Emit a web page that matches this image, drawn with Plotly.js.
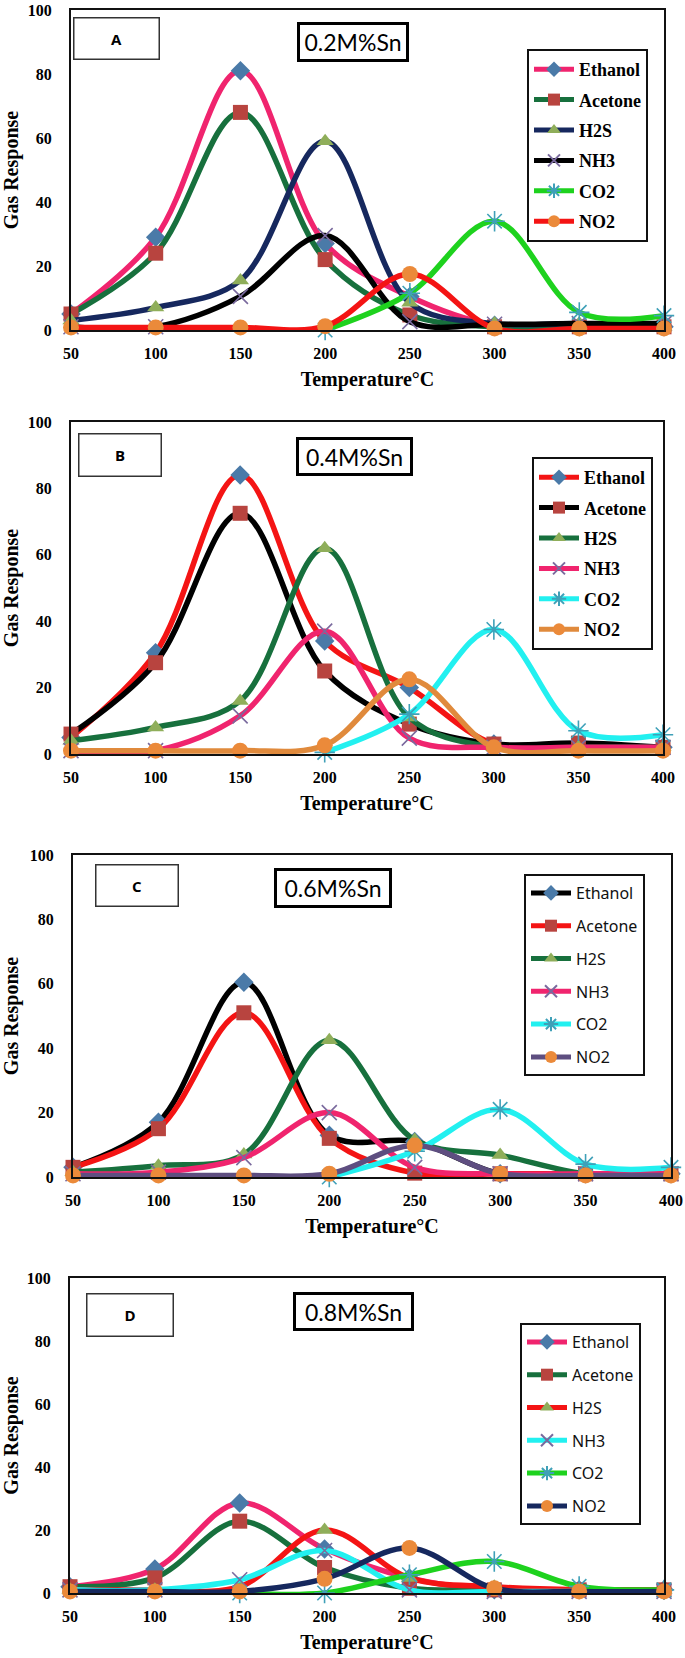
<!DOCTYPE html>
<html>
<head>
<meta charset="utf-8">
<script src="https://cdn.plot.ly/plotly-3.0.1.min.js"></script>
<style>html,body{margin:0;padding:0;background:#fff;}#chart{width:685px;height:1658px;}</style>
</head>
<body>
<div id="chart"></div>
<script>
// ---- data ----
const temps = [50, 100, 150, 200, 250, 300, 350, 400];
const gasNames = ["Ethanol", "Acetone", "H2S", "NH3", "CO2", "NO2"];
const panelLabels = ["A", "B", "C", "D"];
const panelTitles = ["0.2M%Sn", "0.4M%Sn", "0.6M%Sn", "0.8M%Sn"];
const xTickLabels = ["50", "100", "150", "200", "250", "300", "350", "400"];
const yTickLabels = ["0", "20", "40", "60", "80", "100"];

// Panel A (0.2 M% Sn)
const ethanolA = [5, 29, 81, 27, 10.5, 1.5, 1, 1];
const acetoneA = [5, 24, 68, 22, 4.7, 1, 1, 1];
const h2sA     = [3, 7, 15.5, 59, 8.5, 2, 2, 1];
const nh3A     = [1, 1, 10.5, 29.5, 2.6, 1.8, 2, 2];
const co2A     = [null, null, null, 0, 11.5, 34, 5.5, 4.5];
const no2A     = [0.8, 0.8, 0.8, 1.2, 17.5, 0.5, 0.5, 0.5];

// Panel B (0.4 M% Sn)
const ethanolB = [5, 30.5, 84, 34, 20, 3, 2, 2];
const acetoneB = [6, 27.5, 72.5, 25, 9, 3, 3.3, 2];
const h2sB     = [4, 8, 16, 62, 11, 2, 2, 2];
const nh3B     = [1, 1, 11.5, 37, 4.8, 2, 2, 2];
const co2B     = [null, null, null, 0.5, 12, 37.5, 7, 5.8];
const no2B     = [1, 1, 1, 2.6, 22.5, 2, 1, 1];

// Panel C (0.6 M% Sn)
const ethanolC = [3, 17, 60.5, 13, 11, 1, 1, 1];
const acetoneC = [3, 15, 51, 12, 1.2, 1, 1, 1];
const h2sC     = [1.5, 3.5, 7, 42.5, 11.5, 6.8, 1, 1];
const nh3C     = [1, 1.5, 6, 20, 3, 1, 1, 1];
const co2C     = [null, null, null, 0, 8, 21, 4, 3];
const no2C     = [0.5, 0.5, 0.5, 1, 9.8, 1, 0.5, 0.5];

// Panel D (0.8 M% Sn)
const ethanolD = [2, 7.6, 28.6, 14, 4.8, 1, 1, 1];
const acetoneD = [2, 4.8, 22.8, 8.1, 1.5, 1, 1, 1];
const h2sD     = [1, 1, 2, 20, 4.8, 2, 1, 1];
const nh3D     = [1, 1, 4.2, 13.5, 1, 0.5, 0.5, 0.5];
const co2D     = [null, null, 0, 0, 5.8, 10, 2.1, 1];
const no2D     = [0.5, 0.5, 0.5, 4.5, 14.3, 1.5, 0.5, 0.5];

const panelData = [
  [ethanolA, acetoneA, h2sA, nh3A, co2A, no2A],
  [ethanolB, acetoneB, h2sB, nh3B, co2B, no2B],
  [ethanolC, acetoneC, h2sC, nh3C, co2C, no2C],
  [ethanolD, acetoneD, h2sD, nh3D, co2D, no2D]
];

// ---- styles ----
const W = 685, H = 1658;
const PINK = "#f0246e", DKGREEN = "#17703d", NAVY = "#16285e", BLACK = "#000000",
      LIME = "#1ed21e", RED = "#f41414", CYAN = "#22f0f0", ORANGE = "#e08a3c", PURPLE = "#5e4e80";
const lineColors = [
  [PINK, DKGREEN, NAVY, BLACK, LIME, RED],
  [RED, BLACK, DKGREEN, PINK, CYAN, ORANGE],
  [BLACK, RED, DKGREEN, PINK, CYAN, PURPLE],
  [PINK, DKGREEN, RED, CYAN, LIME, NAVY]
];
const markerStyles = [
  {symbol: "diamond", color: "#4a7aa8", size: 15},
  {symbol: "square", color: "#b8443f", size: 15},
  {symbol: "triangle-up", color: "#8fae5a", size: 15},
  {symbol: "x-thin", color: "#7a6a9e", size: 15},
  {symbol: "asterisk", color: "#3fa0b8", size: 17},
  {symbol: "circle", color: "#eb8a3a", size: 16}
];

// pixel geometry of each panel (left, right, top, bottom)
const boxes = [
  {l: 71, r: 664, t: 10, b: 330},
  {l: 71, r: 663, t: 422, b: 754},
  {l: 73, r: 671, t: 855, b: 1177},
  {l: 70, r: 664, t: 1278, b: 1593}
];
const labelBoxes = [
  {cx: 116, cy: 39, w: 84, h: 40},
  {cx: 120, cy: 455, w: 81, h: 41},
  {cx: 137, cy: 885.5, w: 81, h: 40},
  {cx: 130, cy: 1315, w: 85, h: 41}
];
const titleBoxes = [
  {cx: 353, cy: 42, w: 104, h: 32},
  {cx: 354.5, cy: 456.5, w: 109, h: 31},
  {cx: 333, cy: 888, w: 110, h: 32},
  {cx: 353.5, cy: 1311.5, w: 113, h: 31}
];
const legendPos = [
  {l: 527, t: 49, serif: true},
  {l: 532, t: 457, serif: true},
  {l: 524, t: 874, serif: false},
  {l: 520, t: 1323, serif: false}
];

const px = x => x / W;
const py = y => 1 - y / H;
const SERIF = "Liberation Serif";

const traces = [];
const layout = {
  width: W, height: H,
  margin: {l: 0, r: 0, t: 0, b: 0},
  paper_bgcolor: "#fff", plot_bgcolor: "#fff",
  showlegend: true,
  annotations: []
};

for (let p = 0; p < 4; p++) {
  const sfx = p === 0 ? "" : String(p + 1);
  const legName = "legend" + sfx;
  for (let g = 0; g < 6; g++) {
    const ms = markerStyles[g];
    const thin = ms.symbol === "x-thin" || ms.symbol === "asterisk";
    traces.push({
      type: "scatter", mode: "lines+markers",
      x: temps, y: panelData[p][g],
      name: gasNames[g],
      xaxis: "x" + sfx, yaxis: "y" + sfx,
      legend: legName,
      legendgroup: "p" + p + "g" + g,
      line: {color: lineColors[p][g], width: 5.5, shape: "spline", smoothing: 1},
      marker: {symbol: ms.symbol, size: ms.size, color: ms.color,
               line: thin ? {color: ms.color, width: 1.6} : {width: 0}},
      cliponaxis: false,
      hoverinfo: "x+y+name"
    });
  }
  const bx = boxes[p];
  layout["xaxis" + sfx] = {
    domain: [px(bx.l), px(bx.r)], anchor: "y" + sfx,
    range: [50, 400], tickmode: "array", tickvals: temps, ticktext: xTickLabels,
    showgrid: false, zeroline: false, showline: true, mirror: true,
    linecolor: "#111", linewidth: 2, ticks: "",
    ticklabelstandoff: 8,
    tickfont: {family: SERIF, size: 16, color: "#000", weight: "bold"},
    title: {text: "Temperature°C", standoff: 11,
            font: {family: SERIF, size: 20, color: "#000", weight: "bold"}},
    automargin: false, fixedrange: true
  };
  layout["yaxis" + sfx] = {
    domain: [py(bx.b), py(bx.t)], anchor: "x" + sfx,
    range: [0, 100], tickmode: "array", tickvals: [0, 20, 40, 60, 80, 100], ticktext: yTickLabels,
    showgrid: false, zeroline: false, showline: true, mirror: true,
    linecolor: "#111", linewidth: 2, ticks: "",
    ticklabelstandoff: 14,
    tickfont: {family: SERIF, size: 16, color: "#000", weight: "bold"},
    title: {text: "Gas Response", standoff: 6,
            font: {family: SERIF, size: 20, color: "#000", weight: "bold"}},
    automargin: false, fixedrange: true
  };
  const lp = legendPos[p];
  layout[legName] = {
    x: px(lp.l), y: py(lp.t), xanchor: "left", yanchor: "top",
    bgcolor: "#fff", bordercolor: "#111", borderwidth: 2,
    tracegroupgap: lp.serif ? 4 : 9,
    itemwidth: 40, itemsizing: "constant",
    font: lp.serif ? {family: SERIF, size: 18, color: "#000", weight: "bold"}
                   : {family: "Noto Sans", size: 16, color: "#111"}
  };
  const lb = labelBoxes[p];
  layout.annotations.push({
    xref: "paper", yref: "paper", x: px(lb.cx), y: py(lb.cy),
    xanchor: "center", yanchor: "middle", showarrow: false,
    text: "<b>" + panelLabels[p] + "</b>",
    width: lb.w, height: lb.h, borderpad: 0,
    bordercolor: "#333", borderwidth: 1.5, bgcolor: "#fff",
    font: {family: "Open Sans", size: 15, color: "#000"}
  });
  const tb = titleBoxes[p];
  layout.annotations.push({
    xref: "paper", yref: "paper", x: px(tb.cx), y: py(tb.cy),
    xanchor: "center", yanchor: "middle", showarrow: false,
    text: panelTitles[p],
    width: tb.w, height: tb.h, borderpad: 1,
    bordercolor: "#000", borderwidth: 3, bgcolor: "#fff",
    font: {family: "Lato", size: 23, color: "#000"}
  });
}

Plotly.newPlot("chart", traces, layout, {staticPlot: true, displayModeBar: false});
</script>
</body>
</html>
